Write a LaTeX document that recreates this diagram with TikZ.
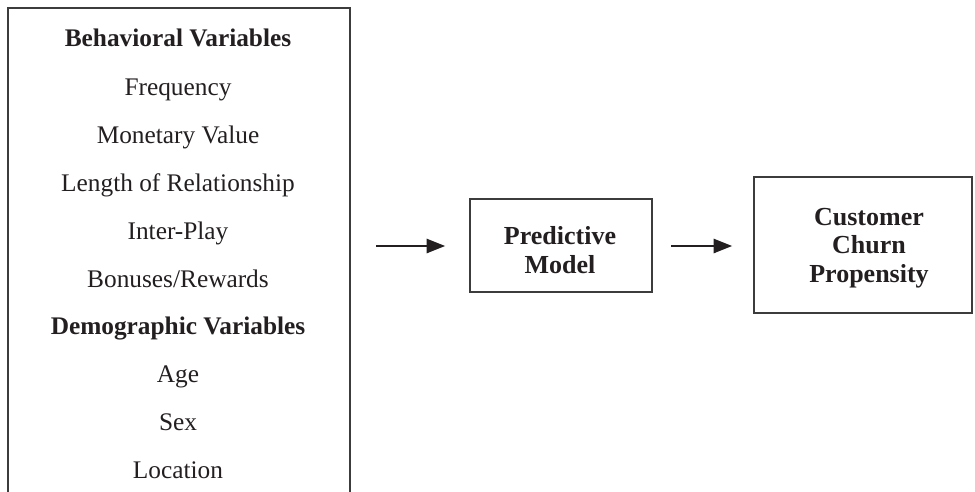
\documentclass[tikz,border=0pt]{standalone}
\usepackage{fontspec}
\setmainfont{Liberation Serif}
\usetikzlibrary{arrows.meta}
\definecolor{ink}{RGB}{35,31,32}
\definecolor{rule}{RGB}{60,60,60}
\tikzset{every picture/.style={line width=0.75pt}}
\tikzset{
  varline/.style={anchor=base, inner sep=0pt, text=ink, font=\fontsize{19}{22}\selectfont},
  varhead/.style={varline, font=\fontsize{19}{22}\selectfont\bfseries},
  blockbox/.style={draw=rule, line width=1.1pt, inner sep=0pt},
  blocktext/.style={align=center, text=ink, inner sep=0pt,
    font=\fontsize{19.5}{21.5}\selectfont\bfseries},
  flow/.style={draw=ink, line width=2.1pt, -{Triangle[length=14pt,width=10.5pt]}}
}

\begin{document}
\begin{tikzpicture}[x=0.75pt,y=0.75pt,yscale=-1,xscale=1]
		\useasboundingbox (0,0) rectangle (975,492);
		
		%Shape: open box of variables
		\draw [rule, line width=1.1pt]  (8,495) -- (8,8) -- (350,8) -- (350,495) ;
		\coordinate (vout) at (376,246);
		
		\node [varhead] (behav) at (178,47) {Behavioral Variables};
		\node [varline] (freq) at (178,95) {Frequency};
		\node [varline] (money) at (178,143) {Monetary Value};
		\node [varline] (length) at (178,191) {Length of Relationship};
		\node [varline] (inter) at (178,239) {Inter-Play};
		\node [varline] (bonus) at (178,287) {Bonuses/Rewards};
		\node [varhead] (demo) at (178,334) {Demographic Variables};
		\node [varline] (age) at (178,382) {Age};
		\node [varline] (sex) at (178,430) {Sex};
		\node [varline] (loc) at (178,478) {Location};
		
		%Shape: Rectangle predictive model
		\node [blockbox, minimum width=136.5pt, minimum height=69.75pt] (model) at (561,245.5) {};
		\node [blocktext] (modeltext) at (560,250) {Predictive\\Model};
		%Shape: Rectangle churn propensity
		\node [blockbox, minimum width=163.5pt, minimum height=102pt] (churn) at (863,245) {};
		\node [blocktext] (churntext) at (869,248) {Customer\\Churn\\Propensity};
		
		\draw [flow, shorten >=18pt] (vout) -- (vout -| model.west);
		\draw [flow, shorten <=14pt, shorten >=15.75pt] (model.east |- vout) -- (churn.west |- vout);
		
	\end{tikzpicture}
\end{document}
